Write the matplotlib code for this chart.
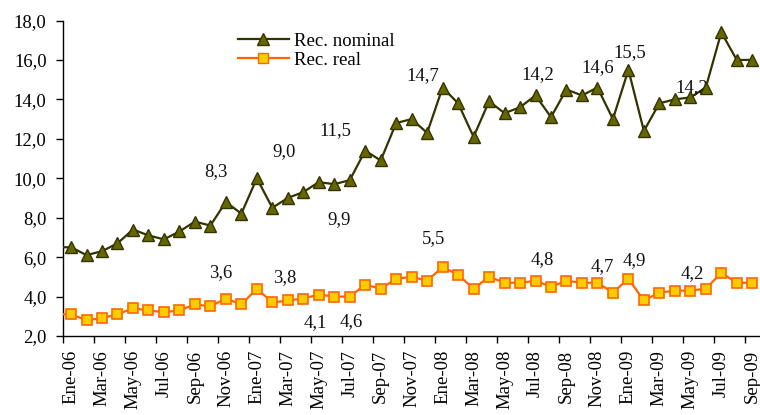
import numpy as np
import matplotlib
matplotlib.use("Agg")
import matplotlib.pyplot as plt
from matplotlib.ticker import FuncFormatter

plt.rcParams['font.family'] = ['Liberation Serif', 'DejaVu Serif']

### datos ###
meses = ['Ene', 'Feb', 'Mar', 'Abr', 'May', 'Jun', 'Jul', 'Ago', 'Sep', 'Oct', 'Nov', 'Dic']
periodos = [m + '-' + a for a in ['06', '07', '08', '09'] for m in meses][:45]

rec_nominal = [6.5, 6.1, 6.3, 6.7, 7.4, 7.1, 6.9, 7.3, 7.8, 7.6, 8.8, 8.2,
               10.0, 8.5, 9.0, 9.3, 9.8, 9.7, 9.9, 11.4, 10.9, 12.8, 13.0, 12.3,
               14.6, 13.8, 12.1, 13.9, 13.3, 13.6, 14.2, 13.1, 14.5, 14.2, 14.6, 13.0,
               15.5, 12.4, 13.8, 14.0, 14.1, 14.6, 17.4, 16.0, 16.0]
rec_real = [3.1, 2.8, 2.9, 3.1, 3.4, 3.3, 3.2, 3.3, 3.6, 3.5, 3.9, 3.6,
            4.4, 3.7, 3.8, 3.9, 4.1, 4.0, 4.0, 4.6, 4.4, 4.9, 5.0, 4.8,
            5.5, 5.1, 4.4, 5.0, 4.7, 4.7, 4.8, 4.5, 4.8, 4.7, 4.7, 4.2,
            4.9, 3.8, 4.2, 4.3, 4.3, 4.4, 5.2, 4.7, 4.7]
# valor del mes anterior (Dic-05), fuera del eje
prev_nominal = 6.5
prev_real = 3.1

# etiquetas de datos: (texto, indice del mes, desplazamiento en pixeles)
etiq_nominal = [('8,3', 11, (-25, 42)), ('9,0', 14, (-4, 46)), ('11,5', 19, (-30, 20)),
                ('9,9', 18, (-11, -39)), ('14,7', 24, (-20, 12)), ('14,2', 30, (2, 21)),
                ('14,6', 34, (0, 20)), ('15,5', 36, (1, 17)), ('14,2', 40, (1, 10))]
etiq_real = [('3,6', 11, (-21, 32)), ('3,8', 14, (-3, 23)), ('4,1', 16, (-3, -28)),
             ('4,6', 19, (-14, -37)), ('5,5', 24, (-9, 28)), ('4,8', 30, (7, 21)),
             ('4,7', 34, (5, 16)), ('4,9', 36, (6, 18)), ('4,2', 40, (2, 17))]

FS = 13.5

### grafico ###
fig = plt.figure(figsize=(7.6, 4.15), dpi=100)
ax = fig.add_axes([0.0833, 0.1904, 0.9167, 0.7602])

x = np.arange(len(periodos))
xn = np.concatenate([[-1], x])

ax.plot(xn, [prev_nominal] + rec_nominal, color='#333300', lw=1.6, zorder=3)
ax.plot(x, rec_nominal, ls='none', marker='^', ms=8.5, mfc='#666600', mec='#333300', mew=1, zorder=4)
ax.plot(xn, [prev_real] + rec_real, color='#FF6600', lw=1.6, zorder=3)
ax.plot(x, rec_real, ls='none', marker='s', ms=7, mfc='#FFCC00', mec='#FF6600', mew=1.2, zorder=4)

# leyenda (entradas propias para linea + marcador)
h1, = ax.plot([], [], color='#333300', lw=1.6, marker='^', ms=8.5, mfc='#666600', mec='#333300')
h2, = ax.plot([], [], color='#FF6600', lw=1.6, marker='s', ms=7, mfc='#FFCC00', mec='#FF6600')
ax.legend([h1, h2], ['Rec. nominal', 'Rec. real'], loc='upper left', bbox_to_anchor=(0.24, 0.985),
          frameon=False, fontsize=FS, handlelength=2.7, handletextpad=0.3, labelspacing=0.1,
          borderaxespad=0)

for txt, i, off in etiq_nominal:
    ax.annotate(txt, (x[i], rec_nominal[i]), xytext=off, textcoords='offset pixels',
                ha='center', va='center', fontsize=FS, color='#111111')
for txt, i, off in etiq_real:
    ax.annotate(txt, (x[i], rec_real[i]), xytext=off, textcoords='offset pixels',
                ha='center', va='center', fontsize=FS, color='#111111')

ax.set_xlim(-0.5, len(periodos) - 0.5)
ax.set_ylim(2, 18)
ax.set_yticks(np.arange(2, 18.1, 2))
ax.yaxis.set_major_formatter(FuncFormatter(lambda v, p: ('%.1f' % v).replace('.', ',')))

ax.set_xticks(x[::2])
ax.set_xticklabels(periodos[::2], rotation=90, va='top', ha='center')
ax.set_xticks(np.arange(-0.5, len(periodos), 2), minor=True)
ax.tick_params(axis='x', which='major', length=0, pad=10, labelsize=FS)
ax.tick_params(axis='x', which='minor', length=5, width=1, direction='out')
ax.tick_params(axis='y', length=5, width=1, direction='out', labelsize=FS, pad=7)

ax.spines['top'].set_visible(False)
ax.spines['right'].set_visible(False)
for s in ['left', 'bottom']:
    ax.spines[s].set_linewidth(1)

fig.savefig('out.png', dpi=100)
